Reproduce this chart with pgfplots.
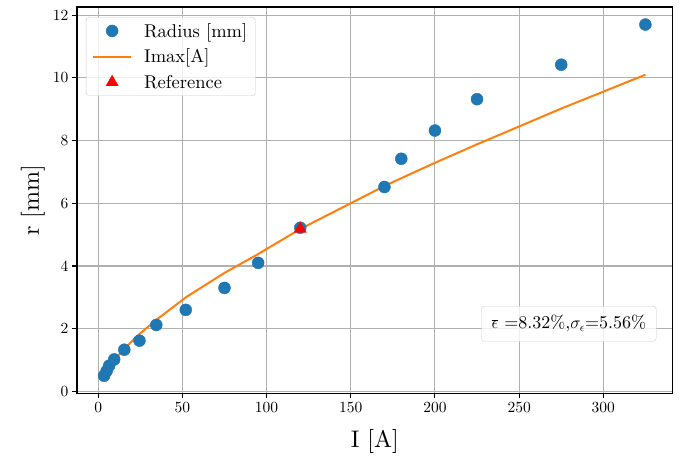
\documentclass[border=0pt]{standalone}
\DeclareFontFamily{TU}{lmrten}{}
\DeclareFontShape{TU}{lmrten}{m}{n}{<->"[lmroman10-regular]:mapping=tex-text;"}{}
\renewcommand\rmdefault{lmrten}
\usepackage{pgfplots}
\pgfplotsset{compat=1.18}
\definecolor{mblue}{HTML}{1F77B4}
\definecolor{morange}{HTML}{FF7F0E}
\definecolor{mgrid}{HTML}{B0B0B0}
\definecolor{mleg}{HTML}{CCCCCC}
\begin{document}
\begin{tikzpicture}
\begin{axis}[
  scale only axis, width=595.5pt, height=386.3pt,
  xmin=-12.6, xmax=341.1, ymin=-0.06, ymax=12.26,
  xtick={0,50,...,300}, ytick={0,2,...,12},
  /pgf/number format/assume math mode=true,
  grid=major, major grid style={mgrid, line width=1.1pt},
  axis line style={line width=1.1pt},
  tick style={black, line width=1.1pt}, major tick length=5pt, tick align=outside,
  xtick pos=left, ytick pos=left,
  ticklabel style={font=\fontsize{15.5}{18}\selectfont},
  xlabel={I [A]}, ylabel={r [mm]},
  label style={font=\fontsize{24}{29}\selectfont},
  xlabel style={at={(axis description cs:0.5,-0.124)}, anchor=center},
  ylabel style={at={(axis description cs:-0.074,0.5)}, anchor=center},
  legend style={at={(0.015,0.974)}, anchor=north west, draw=mleg, rounded corners=3pt,
    fill=white, fill opacity=0.8, text opacity=1, font=\fontsize{18.5}{21}\selectfont,
    row sep=6.5pt, column sep=10pt, inner xsep=6pt, inner ysep=4pt},
  legend cell align=left,
  legend image post style={fill opacity=1, draw opacity=1},
  legend image code/.code={\draw[mark repeat=2,mark phase=2,#1] plot coordinates {(0pt,0pt) (19pt,0pt) (38pt,0pt)};},
]
\addplot[only marks, mark=*, mark size=6pt, color=mblue] coordinates {
(3.5,0.5) (5,0.65) (6.5,0.82) (9.5,1.02) (15.5,1.33) (24.5,1.62) (34.5,2.12)
(52,2.6) (75,3.3) (95,4.1) (120,5.22) (170,6.52) (180,7.42) (200,8.32)
(225,9.32) (275,10.42) (325,11.7)
};
\addlegendentry{Radius [mm]}
\addplot[color=morange, line width=2pt, no marks] coordinates {
(3.5,0.55) (6.5,0.8) (9.5,1.0) (15.5,1.36) (24.5,1.83) (34.5,2.28)
(52,3.0) (75,3.78) (95,4.38) (120,5.18) (170,6.55) (180,6.8) (200,7.29)
(225,7.88) (275,9.02) (325,10.1)
};
\addlegendentry{Imax[A]}
\addplot[only marks, mark=triangle*, mark size=7pt, color=red] coordinates {(120,5.18)};
\addlegendentry{Reference}
\node[draw=mleg, rounded corners=3pt, fill=white, fill opacity=0.8, text opacity=1,
  font=\fontsize{18}{21}\selectfont, inner xsep=10pt, inner ysep=9pt] at (rel axis cs:0.826,0.18)
  {$\overline{\epsilon}$ =8.32\%,$\sigma_\epsilon$=5.56\%};
\end{axis}
\pgfresetboundingbox
\useasboundingbox (-77pt,-63.7pt) rectangle (615pt,393.3pt);
\end{tikzpicture}
\end{document}
